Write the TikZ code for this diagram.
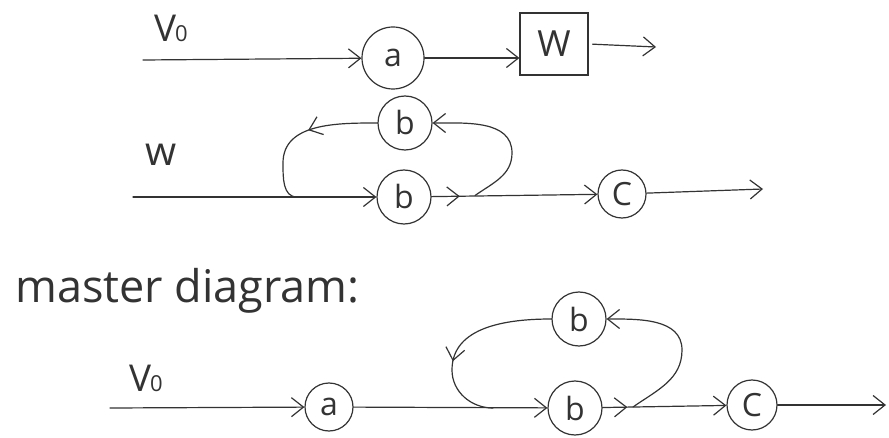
\documentclass[tikz,border=0pt]{standalone}
\usepackage{fontspec}
\setmainfont{Open Sans}
\usetikzlibrary{arrows.meta,decorations.markings}
\definecolor{ink}{HTML}{333333}
\begin{document}
\begin{tikzpicture}[x=1pt,y=1pt,
  >={Straight Barb[length=12pt,width=19pt]},
  wire/.style={draw=ink,line width=1.2pt,line cap=round,line join=round},
  flow/.style={wire,->},
  midarrow/.style={postaction={decorate},
    decoration={markings,mark=at position #1 with {\arrow[ink]{>}}}},
  op/.style={circle,draw=ink,line width=1.2pt,minimum size=54pt,inner sep=0pt,
    text=ink,font=\fontsize{32}{32}\selectfont},
  blockbox/.style={rectangle,draw=ink,line width=1.2pt,minimum width=68pt,
    minimum height=62pt,inner sep=0pt,text=ink,font=\fontsize{36}{36}\selectfont},
  lbl/.style={text=ink,inner sep=0pt,font=\fontsize{37}{37}\selectfont},
]
\useasboundingbox (0,0) rectangle (889,437);

% first chain: V0 -> a -> W ->
\node[lbl] (v1) at (171,409) {V\kern-1pt{\fontsize{22}{22}\selectfont 0}};
\coordinate (s1) at (143,377);
\node[op,minimum size=62pt] (a1) at (393,379) {a};
\node[blockbox] (W) at (554,393) {W};
\coordinate (o1) at (656,390);
\draw[flow] (s1) -- (a1);
\draw[flow] (a1.east) -- (a1.east -| W.west);
\draw[flow,shorten <=4pt] (W.east) -- (o1);

% second chain: w -> b (with feedback through b) -> c ->
\node[lbl,font=\fontsize{40}{40}\selectfont] (w2) at (161,282) {w};
\coordinate (s2) at (133,240);
\node[op] (bL2) at (404,240) {b};
\node[op] (bU2) at (405,314) {b};
\node[op,minimum size=48pt] (c2) at (622,243) {C};
\coordinate (o2) at (763,248);
\coordinate (j2L) at (297,240);
\coordinate (j2R) at (475,241.5);
\coordinate (e2L) at (283,274);
\coordinate (e2R) at (512,284);
\draw[flow] (s2) -- (bL2);
\draw[flow,midarrow=0.17] (bL2) -- (c2);
\draw[flow] (c2) -- (o2);
\draw[flow] (j2R) to[out=35,in=-90] (e2R) to[out=90,in=0] (bU2.east);
\draw[wire,midarrow=0.45] (bU2.west) to[out=180,in=90] (e2L) to[out=-90,in=180] (j2L);

% master diagram
\node[anchor=base west,inner sep=0pt,text=ink,font=\fontsize{45}{45}\selectfont]
  (title) at (15,135) {master diagram:};
\node[lbl] (v3) at (146,59) {V\kern-1pt{\fontsize{22}{22}\selectfont 0}};
\coordinate (s3) at (110,29);
\node[op,minimum size=48pt] (a3) at (329,30) {a};
\node[op] (bL3) at (575,29) {b};
\node[op] (bU3) at (579,118) {b};
\node[op,minimum size=50pt] (c3) at (752,32) {C};
\coordinate (o3) at (886,32);
\coordinate (j3L) at (493,29);
\coordinate (j3R) at (633,30);
\coordinate (e3L) at (452,67);
\coordinate (e3R) at (682,87);
\draw[flow] (s3) -- (a3);
\draw[flow] (a3) -- (bL3);
\draw[flow,midarrow=0.2] (bL3) -- (c3);
\draw[flow] (c3) -- (o3);
\draw[flow] (j3R) to[out=35,in=-90] (e3R) to[out=90,in=0] (bU3.east);
\draw[wire,midarrow=0.62] (bU3.west) to[out=180,in=90] (e3L) to[out=-90,in=180] (j3L);
\end{tikzpicture}
\end{document}
